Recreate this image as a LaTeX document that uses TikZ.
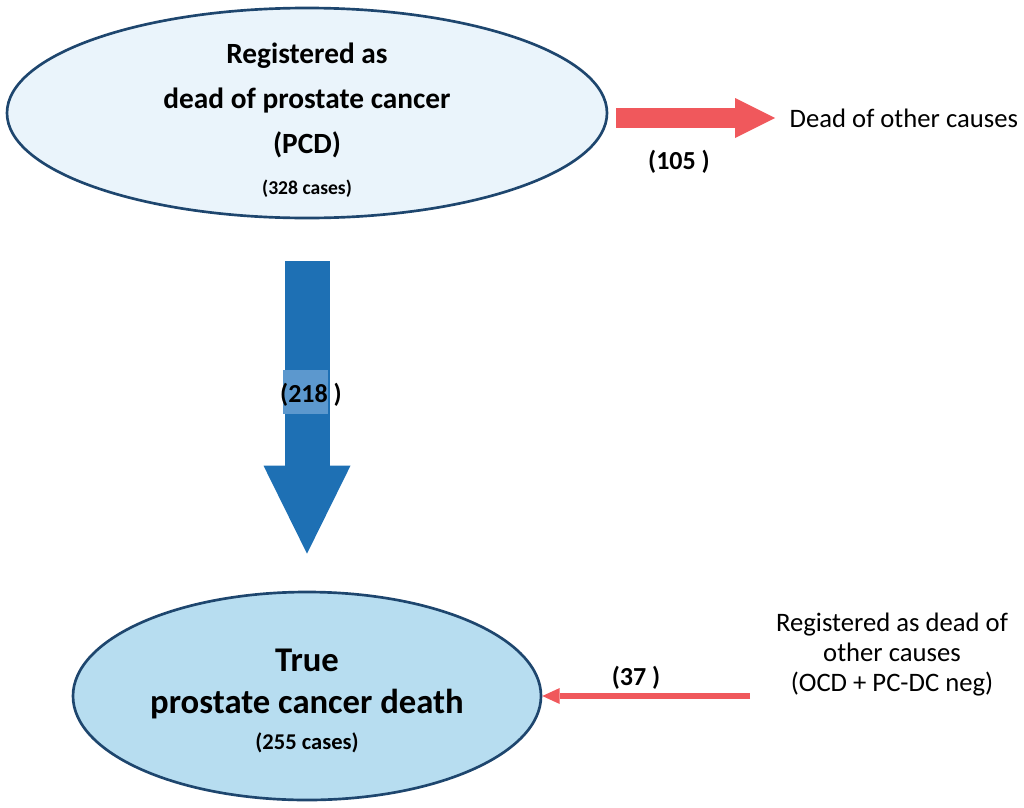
\documentclass[tikz,border=0pt]{standalone}
\usepackage{fontspec}
\setmainfont{Carlito}
\usetikzlibrary{arrows.meta, positioning, shapes.geometric, calc}

\begin{document}
\begin{tikzpicture}[x=0.75pt, y=-0.75pt]
    % Define colors
    \definecolor{pcdfill}{RGB}{234,244,251}
    \definecolor{truefill}{RGB}{183,221,240}
    \definecolor{ellipseborder}{RGB}{30,70,110}
    \definecolor{flowblue}{RGB}{30,112,180}
    \definecolor{bandblue}{RGB}{92,152,206}
    \definecolor{flowred}{RGB}{240,88,92}

    % Define styles
    \tikzset{
        caseellipse/.style={ellipse, draw=ellipseborder, line width=2pt, inner sep=0pt},
        bigtext/.style={align=center, font=\bfseries\fontsize{22}{34}\selectfont},
        count/.style={font=\bfseries\fontsize{19.5}{23}\selectfont},
        sidetext/.style={align=center, font=\fontsize{20}{22.5}\selectfont},
    }

    \useasboundingbox (0,0) rectangle (1024,807);

    % Ellipses
    \node[caseellipse, fill=pcdfill, minimum width=450pt, minimum height=157.5pt] (pcd) at (307,113) {};
    \node[caseellipse, fill=truefill, minimum width=351pt, minimum height=156pt] (true) at (307,696) {};

    % Texts inside the ellipses
    \node[bigtext] (pcdtext) at (307,120) {Registered as\\dead of prostate cancer\\(PCD)\\[-3.4pt]{\fontsize{14.7}{18}\selectfont (328 cases)}};
    \node[bigtext, font=\bfseries\fontsize{26}{32}\selectfont] (truetext) at (307,701) {True\\prostate cancer death\\[-5pt]{\fontsize{16.9}{20}\selectfont (255 cases)}};

    % Main flow (blue)
    \draw[flowblue, line width=33.75pt, -{Triangle[length=66pt, width=65.25pt, line width=0pt]}] ([yshift=-31.5pt]pcd.south) -- ([yshift=27.75pt]true.north);
    \fill[bandblue] (283,370) rectangle (328,414);
    \node[count] (n218) at (311,395) {(218 )};

    % Dead of other causes (red)
    \node[sidetext, anchor=west] (other) at (785,118) {Dead of other causes};
    \draw[flowred, line width=15pt, -{Triangle[length=30pt, width=30pt, line width=0pt]}] ($(pcd.east |- other.west)+(8,0)$) -- ($(other.west)+(-10,0)$);
    \node[count] (n105) at (679,162) {(105 )};

    % Registered as other causes (red)
    \node[sidetext] (ocd) at (892,655) {Registered as dead of\\other causes\\(OCD + PC-DC neg)};
    \coordinate (ocdstart) at (750,696);
    \draw[flowred, line width=5pt, -{Triangle[length=13pt, width=12pt, line width=0pt]}] (ocdstart) -- (true.east);
    \node[count] (n37) at (636,678) {(37 )};

\end{tikzpicture}
\end{document}
